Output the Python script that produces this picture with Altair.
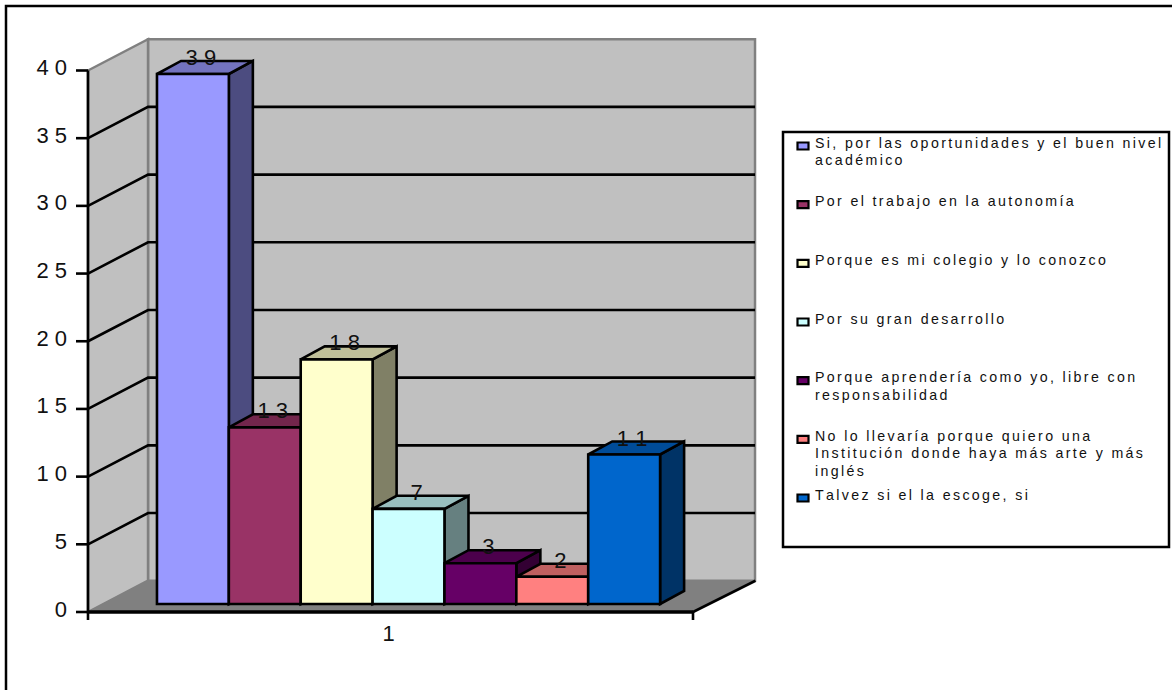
import altair as alt
import pandas as pd

# Survey answers and their counts
answers = [
    ["Si, por las oportunidades y el buen nivel", "académico"],
    ["Por el trabajo en la autonomía"],
    ["Porque es mi colegio y lo conozco"],
    ["Por su gran desarrollo"],
    ["Porque aprendería como yo, libre con", "responsabilidad"],
    ["No lo llevaría porque quiero una", "Institución donde haya más arte y más", "inglés"],
    ["Talvez si el la escoge, si"],
]
counts = [39, 13, 18, 7, 3, 2, 11]
colors = ["#9999FF", "#993366", "#FFFFCC", "#CCFFFF", "#660066", "#FF8080", "#0066CC"]
value_ticks = [0, 5, 10, 15, 20, 25, 30, 35, 40]
grid_ticks = [5, 10, 15, 20, 25, 30, 35]
category_label = "1"

FONT = "Liberation Sans"
LETTER_GAP = "\u2006"
TEXT_COLOR = "#111111"
DIGIT_SIZE = 22
EDGE = 2.6

# Oblique projection of the box: depth offsets in axis units
WALL_DX, WALL_DY = 0.0992, 2.31
BAR_DX, BAR_DY = 0.0397, 0.96
BAR_START, BAR_W = 0.114, 0.1188
BACK_RIGHT = 1.0033

x_scale = alt.Scale(domain=[0, 1], range=[88, 693], nice=False, zero=False)
axis_y = alt.Scale(domain=[0, 40], range=[612, 70.5], nice=False, zero=False)
bar_y = alt.Scale(domain=[0, 40], range=[604, 60.4], nice=False, zero=False)
legend_y = alt.Scale(domain=[0, 6], range=[146, 498], nice=False, zero=False)


def spaced(s, sep=LETTER_GAP):
    return sep.join(s)


def shade(hex_color, k):
    r, g, b = (int(hex_color[i:i + 2], 16) for i in (1, 3, 5))
    return "#%02X%02X%02X" % (round(r * k), round(g * k), round(b * k))


X = alt.X("x:Q", scale=x_scale, axis=None)


def Y(scale):
    return alt.Y("y:Q", scale=scale, axis=None)


def area(rows, fill, scale, stroke, width):
    return (
        alt.Chart(pd.DataFrame(rows, columns=["x", "y", "y2"]))
        .mark_area(fill=fill, stroke=stroke, strokeWidth=width, strokeJoin="miter", opacity=1)
        .encode(x=X, y=Y(scale), y2=alt.Y2("y2:Q"))
    )


def line(rows, color, width, scale=axis_y):
    df = pd.DataFrame(rows, columns=["x", "y", "g"])
    return (
        alt.Chart(df)
        .mark_line(color=color, strokeWidth=width, interpolate="linear")
        .encode(x=X, y=Y(scale), detail="g:N", order="x:Q")
    )


layers = []

# Frame of the whole chart, running off the right and bottom of the page
layers.append(
    alt.Chart(pd.DataFrame({"a": [0]}))
    .mark_rect(fill="white", stroke="black", strokeWidth=2.5)
    .encode(x=alt.value(6), x2=alt.value(1200), y=alt.value(6), y2=alt.value(720))
)

# Back wall, side wall and floor
layers.append(area([[WALL_DX, 40 + WALL_DY, WALL_DY], [BACK_RIGHT + WALL_DX, 40 + WALL_DY, WALL_DY]],
                   "#C0C0C0", axis_y, "#808080", 2.5))
layers.append(area([[0, 40, 0], [WALL_DX, 40 + WALL_DY, WALL_DY]], "#C0C0C0", axis_y, "#808080", 2.5))
layers.append(area([[0, 0, 0], [WALL_DX, WALL_DY, 0], [1, WALL_DY, 0], [1 + WALL_DX, WALL_DY, WALL_DY]],
                   "#808080", axis_y, "#808080", 1))

# Gridlines bend where the side wall meets the back wall
grid_rows = []
for t in grid_ticks:
    grid_rows += [[0, t, t], [WALL_DX, t + WALL_DY, t], [BACK_RIGHT + WALL_DX, t + WALL_DY, t]]
layers.append(line(grid_rows, "black", EDGE))

# Axis lines and tick marks
layers.append(line([[0, 0, "a"], [1, 0, "a"]], "black", 3.5))
layers.append(line([[1, 0, "d"], [1 + WALL_DX + 0.004, WALL_DY, "d"]], "black", EDGE))
layers.append(
    alt.Chart(pd.DataFrame({"x": [0, 0], "y": [0, 40]}))
    .mark_line(color="black", strokeWidth=EDGE)
    .encode(x=X, y=Y(axis_y))
)
ticks = pd.DataFrame({"y": value_ticks, "label": [spaced(str(v), " ") for v in value_ticks]})
layers.append(
    alt.Chart(ticks).mark_rule(color="black", strokeWidth=EDGE)
    .encode(x=alt.value(76), x2=alt.value(88), y=Y(axis_y))
)
layers.append(
    alt.Chart(ticks)
    .mark_text(font=FONT, fontSize=DIGIT_SIZE, align="right", baseline="middle", dy=-2.5, color=TEXT_COLOR)
    .encode(x=alt.value(67), y=Y(axis_y), text="label:N")
)
layers.append(
    alt.Chart(pd.DataFrame({"x": [0, 1]}))
    .mark_rule(color="black", strokeWidth=EDGE)
    .encode(x=X, y=alt.value(612), y2=alt.value(620))
)
layers.append(
    alt.Chart(pd.DataFrame({"x": [0.5], "y": [0], "label": [category_label]}))
    .mark_text(font=FONT, fontSize=DIGIT_SIZE, align="center", baseline="middle", dy=22, dx=-2, color=TEXT_COLOR)
    .encode(x=X, y=Y(axis_y), text="label:N")
)

# Bars, each one painted over the side of its left neighbour
for i, (v, c) in enumerate(zip(counts, colors)):
    x0 = BAR_START + i * BAR_W
    x1 = x0 + BAR_W
    layers.append(area([[x1, v, 0], [x1 + BAR_DX, v + BAR_DY, BAR_DY]], shade(c, 0.5), bar_y, "black", EDGE))
    layers.append(area([[x0, v, v], [x0 + BAR_DX, v + BAR_DY, v], [x1, v + BAR_DY, v],
                        [x1 + BAR_DX, v + BAR_DY, v + BAR_DY]], shade(c, 0.75), bar_y, "black", EDGE))
    layers.append(area([[x0, v, 0], [x1, v, 0]], c, bar_y, "black", EDGE))

# Value labels above each column
label_df = pd.DataFrame({
    "x": [BAR_START + (i + 0.5) * BAR_W for i in range(len(counts))],
    "y": counts,
    "label": [spaced(str(v), " ") for v in counts],
})
layers.append(
    alt.Chart(label_df)
    .mark_text(font=FONT, fontSize=DIGIT_SIZE, align="center", baseline="middle", dx=8, dy=-16, color=TEXT_COLOR)
    .encode(x=X, y=Y(bar_y), text="label:N")
)

# Legend box, swatches and wrapped entries
layers.append(
    alt.Chart(pd.DataFrame({"a": [0]}))
    .mark_rect(fill="white", stroke="black", strokeWidth=2.5)
    .encode(x=alt.value(783), x2=alt.value(1169), y=alt.value(132), y2=alt.value(547))
)
swatches = pd.DataFrame({"y": list(range(len(colors))), "c": colors})
layers.append(
    alt.Chart(swatches)
    .mark_rect(width=11, height=7, stroke="black", strokeWidth=2.2, opacity=1)
    .encode(x=alt.value(803), y=Y(legend_y), fill=alt.Fill("c:N", scale=None))
)
legend_rows = []
for i, lines in enumerate(answers):
    for j, text in enumerate(lines):
        legend_rows.append({"y": i + (j * 17.3 - 2.3) / 58.67, "label": spaced(text)})
layers.append(
    alt.Chart(pd.DataFrame(legend_rows))
    .mark_text(font=FONT, fontSize=14.2, align="left", baseline="middle", color=TEXT_COLOR)
    .encode(x=alt.value(815), y=Y(legend_y), text="label:N")
)

chart = (
    alt.layer(*layers)
    .resolve_scale(y="independent", x="independent")
    .properties(width=1172, height=690, padding=0, autosize="none", background="white")
    .configure_view(stroke=None)
)

chart.save("out.html", embed_options={"renderer": "svg", "actions": False})
